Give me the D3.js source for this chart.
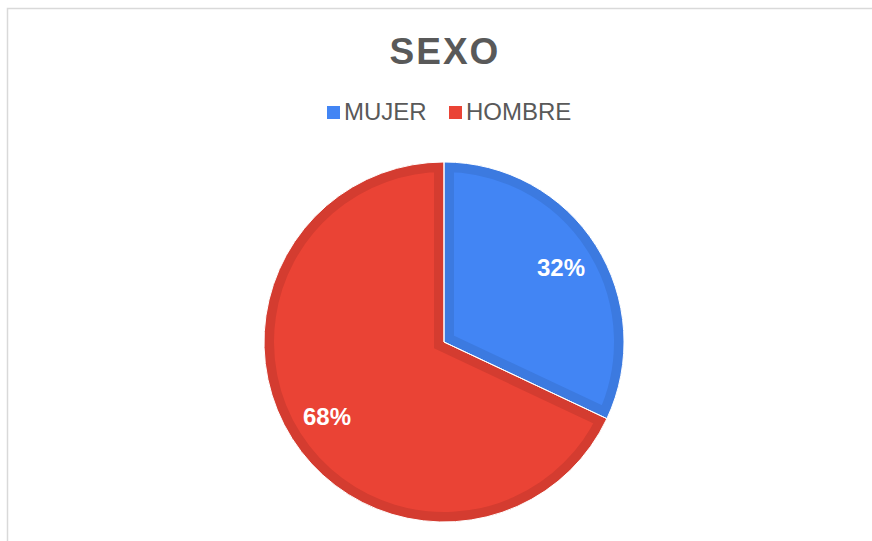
<!DOCTYPE html>
<html>
<head>
<meta charset="utf-8">
<script src="https://cdn.jsdelivr.net/npm/d3@7"></script>
<style>
  body { margin: 0; background: #fff; }
  svg { display: block; font-family: "Liberation Sans", Arial, sans-serif; }
</style>
</head>
<body>
<div id="chart"></div>
<script>
// Chart data
const categories = ['MUJER', 'HOMBRE'];
const values = [32, 68];
const colors = ['#4285f4', '#ea4335'];
const rimColors = ['#3c7ae0', '#d43c30'];

const width = 872;
const height = 541;

const svg = d3.select('#chart')
  .append('svg')
  .attr('width', width)
  .attr('height', height);

// Chart frame (only top and left edges are inside the window)
svg.append('rect')
  .attr('x', 7.5)
  .attr('y', 8.5)
  .attr('width', width + 20)
  .attr('height', height + 20)
  .attr('fill', 'none')
  .attr('stroke', '#d9d9d9')
  .attr('stroke-width', 1.5);

// Title
svg.append('text')
  .attr('x', 445)
  .attr('y', 64)
  .attr('text-anchor', 'middle')
  .attr('font-size', 37)
  .attr('font-weight', 'bold')
  .attr('letter-spacing', 2)
  .attr('fill', '#595959')
  .text('SEXO');

// Legend
const legendX = [327, 449];
const legend = svg.append('g')
  .selectAll('g')
  .data(categories)
  .join('g')
  .attr('transform', (d, i) => `translate(${legendX[i]},106)`);

legend.append('rect')
  .attr('width', 13)
  .attr('height', 13)
  .attr('fill', (d, i) => colors[i]);

legend.append('text')
  .attr('x', 17)
  .attr('y', 14)
  .attr('font-size', 24)
  .attr('fill', '#595959')
  .text((d) => d);

// Pie
const cx = 444;
const cy = 342;
const radius = 180;

const pie = d3.pie().sort(null).value((d) => d);
const arcs = pie(values);
const arc = d3.arc().innerRadius(0).outerRadius(radius);
const labelArc = d3.arc().innerRadius(radius * 0.77).outerRadius(radius * 0.77);

const g = svg.append('g').attr('transform', `translate(${cx},${cy})`);

const defs = svg.append('defs');
defs.selectAll('clipPath')
  .data(arcs)
  .join('clipPath')
  .attr('id', (d, i) => `clip-${i}`)
  .append('path')
  .attr('d', arc);

// each slice gets a darker inner rim, made by a wide stroke clipped to the slice
g.selectAll('path.slice')
  .data(arcs)
  .join('path')
  .attr('class', 'slice')
  .attr('d', arc)
  .attr('fill', (d, i) => colors[i])
  .attr('stroke', (d, i) => rimColors[i])
  .attr('stroke-width', 20)
  .attr('stroke-linejoin', 'miter')
  .attr('clip-path', (d, i) => `url(#clip-${i})`);

g.selectAll('path.edge')
  .data(arcs)
  .join('path')
  .attr('class', 'edge')
  .attr('d', arc)
  .attr('fill', 'none')
  .attr('stroke', '#fff')
  .attr('stroke-width', 1);

g.selectAll('text')
  .data(arcs)
  .join('text')
  .attr('transform', (d) => `translate(${labelArc.centroid(d)})`)
  .attr('text-anchor', 'middle')
  .attr('dy', '0.36em')
  .attr('font-size', 24)
  .attr('font-weight', 'bold')
  .attr('fill', '#fff')
  .text((d) => `${d.data}%`);
</script>
</body>
</html>
